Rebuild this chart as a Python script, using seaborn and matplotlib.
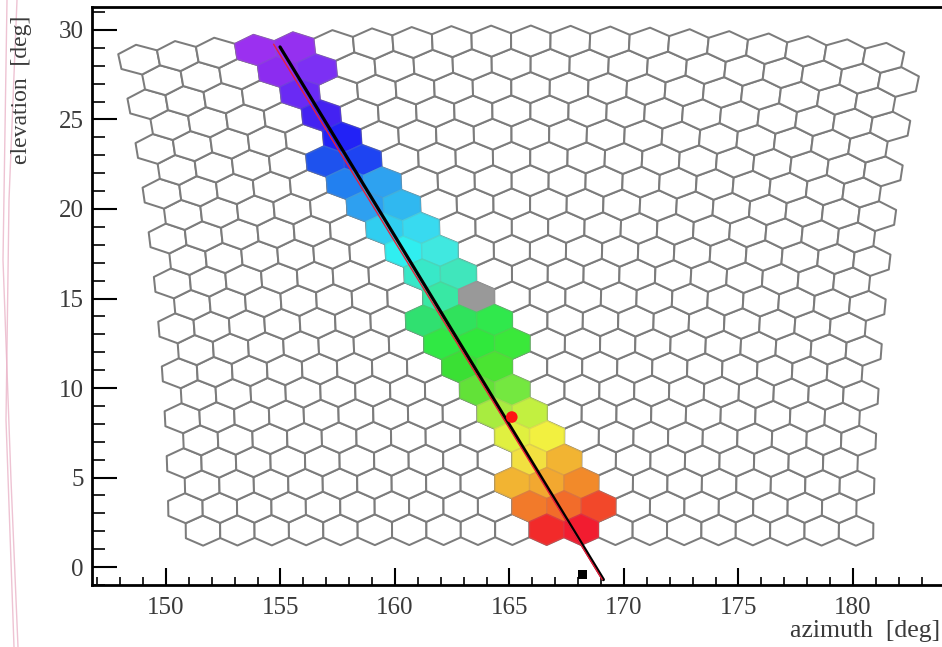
import numpy as np
import matplotlib
matplotlib.use("Agg")
import matplotlib.pyplot as plt
import seaborn as sns
import pandas as pd
from matplotlib.collections import PolyCollection
from matplotlib.lines import Line2D
from matplotlib.ticker import MultipleLocator

# ---------------- data ----------------
n_rows = 22          # camera pixel rows (bottom -> top)
n_cols = 20          # camera pixel columns
az_center = 165.5    # camera pointing azimuth [deg]
row0_elev = 2.1      # elevation of the lowest pixel row [deg]
pix_step = 1.5       # pixel spacing [deg]

hit_rows = [21, 21, 20, 20, 19, 18, 17, 16, 16, 15, 15, 14, 14, 13, 13, 12, 12,
            11, 11, 10, 10, 9, 9, 9, 8, 8, 8, 7, 7, 6, 6, 5, 5, 4, 4, 3, 3,
            2, 2, 2, 1, 1, 1, 0, 0]
hit_cols = [3, 4, 3, 4, 4, 4, 5, 4, 5, 5, 6, 5, 6, 6, 7, 6, 7,
            7, 8, 7, 8, 7, 8, 9, 7, 8, 9, 8, 9, 8, 9, 9, 10, 9, 10, 10, 11,
            9, 10, 11, 10, 11, 12, 10, 11]
hit_colors = ['#9b30f0', '#9530f0', '#8c2cf0', '#7c30f4', '#6a2af4', '#4422f2',
              '#2222f6', '#1e52ee', '#1e44f2', '#2280f0', '#2ea2f0', '#2ea0f0',
              '#30b8f0', '#30cef0', '#38daf0', '#30eef0', '#40e8e0', '#38e8c8',
              '#40e6bc', '#38e8a4', '#999999', '#30e070', '#30e25c', '#30e84c',
              '#30e844', '#30e83c', '#3ae83a', '#3ae034', '#4ae432', '#62e238',
              '#74e840', '#a8ec40', '#c2f040', '#e0f040', '#f2f040', '#f2e040',
              '#f2b432', '#f2b432', '#f2a830', '#f28a2a', '#f27a2a', '#f26c2a',
              '#f2482a', '#f22a2a', '#f21c30']

# shower-detector plane axis (black) and fitted track (red)
axis_az = [154.98, 169.10]
axis_el = [29.05, -0.70]
track_az = [154.70, 169.05]
track_el = [29.20, -0.70]
# point of closest approach (red) and station (black)
spot_az = [165.1]
spot_el = [8.38]
station_az = [168.2]
station_el = [-0.42]

x_ticks = [150, 155, 160, 165, 170, 175, 180]
y_ticks = [0, 5, 10, 15, 20, 25, 30]

# ---------------- geometry helpers ----------------
def project(u, v):
    ur, vr = np.radians(u), np.radians(v)
    el = np.degrees(np.arcsin(np.cos(ur) * np.sin(vr)))
    az = az_center + np.degrees(np.arctan2(np.sin(ur), np.cos(ur) * np.cos(vr)))
    return az, el

R = pix_step / np.sqrt(3.0)
row_step = 1.5 * R
ang = np.radians([30, 90, 150, 210, 270, 330])
du, dv = R * np.cos(ang), R * np.sin(ang)

def hex_poly(r, c):
    off = 0.25 if r % 2 == 0 else -0.25
    u0 = (c - (n_cols - 1) / 2.0 + off) * pix_step
    v0 = row0_elev + r * row_step
    az, el = project(u0 + du, v0 + dv)
    return np.column_stack([az, el])

# ---------------- figure ----------------
sns.set_theme(style="white")
plt.rcParams["font.family"] = ["Liberation Serif", "DejaVu Serif"]

fig = plt.figure(figsize=(9.42, 6.47), dpi=100)
ax = fig.add_axes([92 / 942, 62 / 647, 851 / 942, 578 / 647])

grid_polys = [hex_poly(r, c) for r in range(n_rows) for c in range(n_cols)]
ax.add_collection(PolyCollection(grid_polys, facecolors="white",
                                 edgecolors="#7c7c7c", linewidths=1.45, zorder=1))

hit_polys = [hex_poly(r, c) for r, c in zip(hit_rows, hit_cols)]
fc = [matplotlib.colors.to_rgb(h) for h in hit_colors]
ec = [tuple(0.8 * np.array(f) + 0.2 * 0.55) for f in fc]
ax.add_collection(PolyCollection(hit_polys, facecolors=fc, edgecolors=ec,
                                 linewidths=1.0, zorder=2))

df_axis = pd.DataFrame({"az": axis_az, "el": axis_el})
df_track = pd.DataFrame({"az": track_az, "el": track_el})
sns.lineplot(data=df_axis, x="az", y="el", ax=ax, color="black", lw=2.3,
             sort=False, estimator=None, zorder=3)
sns.lineplot(data=df_track, x="az", y="el", ax=ax, color="#e8203c", lw=1.0,
             sort=False, estimator=None, zorder=4)
sns.scatterplot(x=spot_az, y=spot_el, ax=ax, color="#ff1414", s=70,
                marker="o", edgecolor="none", zorder=5)
sns.scatterplot(x=station_az, y=station_el, ax=ax, color="black", s=45,
                marker="s", edgecolor="none", zorder=5, clip_on=False)

ax.set_xlim(146.77, 150 + (943 - 166) / 22.9)
ax.set_ylim(-1.0, 31.28)
ax.set_xticks(x_ticks)
ax.set_yticks(y_ticks)
ax.xaxis.set_minor_locator(MultipleLocator(1))
ax.yaxis.set_minor_locator(MultipleLocator(1))
ax.set_xlabel("")
ax.set_ylabel("")

lab_col = "#3a3a3a"
ax.tick_params(axis="x", which="major", direction="in", length=12, width=1.5,
               pad=9, labelsize=18, labelcolor=lab_col, color="black",
               bottom=True, top=False)
ax.tick_params(axis="x", which="minor", direction="in", length=6, width=1.4,
               bottom=True, top=False)
ax.tick_params(axis="y", which="major", direction="in", length=18, width=1.5,
               pad=6, labelsize=18, labelcolor=lab_col, color="black",
               left=True, right=False)
ax.tick_params(axis="y", which="minor", direction="in", length=9.5, width=1.4,
               left=True, right=False)
for side in ["left", "bottom", "top"]:
    ax.spines[side].set_visible(True)
    ax.spines[side].set_color("black")
    ax.spines[side].set_linewidth(2.0)
ax.spines["right"].set_visible(False)

fig.text(940 / 942, 1 - 631 / 647, "azimuth  [deg]", ha="right", va="center",
         fontsize=18.5, color=lab_col)
fig.text(22 / 942, 1 - 90 / 647, "elevation  [deg]", ha="center", va="center",
         rotation=90, fontsize=17, color=lab_col)

# faint pink page-edge strokes seen at the left margin
for xs, ys in [([17, 9, 6, 14], [0, 200, 420, 647]),
               ([7, 3, 11, 18], [0, 260, 480, 647])]:
    fig.add_artist(Line2D(np.array(xs) / 942, 1 - np.array(ys) / 647,
                          color="#eab4c8", lw=1.0, alpha=0.8))

fig.savefig("out.png", dpi=100, facecolor="white")
